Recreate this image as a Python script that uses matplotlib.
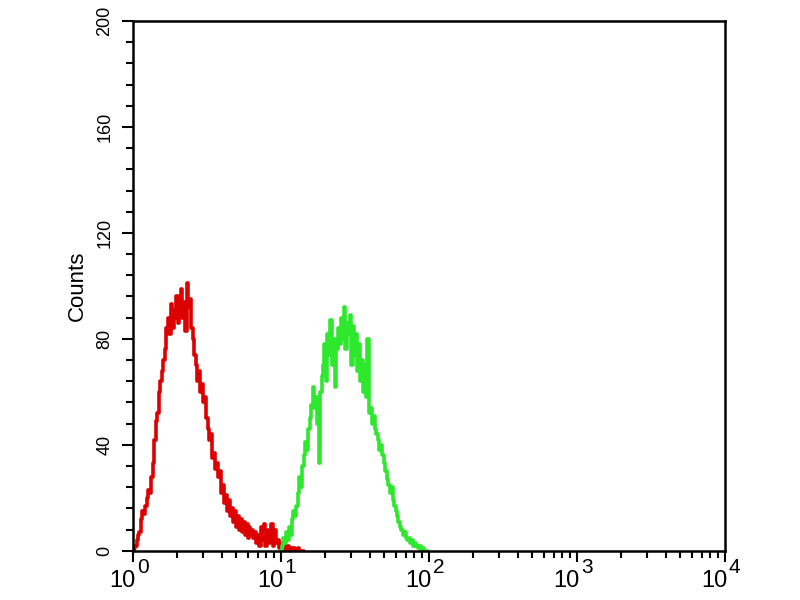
import numpy as np
import matplotlib
matplotlib.use("Agg")
import matplotlib.pyplot as plt
import matplotlib.transforms as mtransforms
from matplotlib.ticker import MultipleLocator, LogLocator, NullFormatter

plt.rcParams['font.family'] = ['Liberation Sans', 'DejaVu Sans']

# --- Dados ---
# canais em escala log10, passo 0.01
red_start, green_start = 0.00, 1.00
red_counts = [
    0, 1, 2, 4, 6, 7, 12, 15, 14, 17,
    20, 23, 22, 28, 33, 42, 49, 52, 60, 64,
    68, 72, 76, 84, 88, 82, 93, 84, 91, 88,
    96, 86, 90, 99, 88, 94, 83, 101, 92, 95,
    84, 80, 74, 70, 64, 68, 60, 63, 56, 58,
    50, 46, 42, 44, 35, 37, 31, 33, 28, 30,
    22, 25, 18, 21, 15, 19, 13, 16, 11, 15,
    9, 13, 8, 12, 7, 11, 6, 10, 5, 9,
    6, 8, 5, 7, 3, 6, 2, 9, 4, 10,
    2, 8, 3, 6, 10, 2, 8, 3, 4, 1,
    3, 1, 2, 0, 1, 2, 0, 1, 0, 1,
    0, 0, 1, 0, 0, 0,
]
green_counts = [
    0, 2, 5, 3, 7, 4, 9, 6, 12, 15,
    13, 17, 22, 28, 24, 32, 36, 41, 38, 46,
    50, 55, 62, 54, 58, 48, 33, 60, 66, 70,
    78, 64, 82, 74, 87, 70, 80, 62, 76, 84,
    78, 88, 80, 92, 76, 86, 82, 89, 70, 85,
    74, 82, 68, 78, 64, 72, 60, 70, 58, 80,
    52, 54, 48, 51, 46, 44, 42, 38, 40, 36,
    33, 30, 27, 25, 22, 24, 19, 17, 15, 13,
    11, 9, 8, 6, 7, 5, 4, 5, 3, 4,
    2, 3, 2, 1, 2, 0, 1, 0, 0, 0,
]
xtick_vals = [1, 10, 100, 1000, 10000]
xtick_exps = ['0', '1', '2', '3', '4']
ytick_vals = [0, 40, 80, 120, 160, 200]

red_x = 10 ** (red_start + 0.01 * np.arange(len(red_counts)))
green_x = 10 ** (green_start + 0.01 * np.arange(len(green_counts)))

# --- Plot ---
fig = plt.figure(figsize=(8, 6), dpi=100)
ax = fig.add_axes([0.166, 0.082, 0.74, 0.883])

ax.plot(red_x, red_counts, color='#dd0000', lw=2.6, drawstyle='steps-mid')
ax.plot(green_x, green_counts, color='#2ee82e', lw=2.6, drawstyle='steps-mid')

ax.set_xscale('log')
ax.set_xlim(1, 10000)
ax.set_ylim(0, 200)

ax.set_xticks(xtick_vals)
ax.set_xticklabels([])
ax.xaxis.set_minor_locator(LogLocator(base=10, subs=np.arange(2, 10)))
ax.xaxis.set_minor_formatter(NullFormatter())

# rótulos 10^n com expoente grande
for v, e in zip(xtick_vals, xtick_exps):
    ax.annotate('10', xy=(v, 0), xycoords=('data', 'axes fraction'),
                xytext=(3, -19), textcoords='offset pixels',
                ha='right', va='top', fontsize=17, annotation_clip=False)
    ax.annotate(e, xy=(v, 0), xycoords=('data', 'axes fraction'),
                xytext=(4, -7), textcoords='offset pixels',
                ha='left', va='top', fontsize=15, annotation_clip=False)

ax.set_yticks(ytick_vals)
ax.set_yticklabels([str(v) for v in ytick_vals], fontsize=13, rotation=90, va='center')
ax.yaxis.set_minor_locator(MultipleLocator(8))
# rótulos do eixo y levemente acima do tick, como no original
shift = mtransforms.ScaledTranslation(0, 4 / 72, fig.dpi_scale_trans)
for lab in ax.get_yticklabels():
    lab.set_transform(lab.get_transform() + shift)

ax.tick_params(which='major', direction='out', length=8, width=1.5, colors='black')
ax.tick_params(which='minor', direction='out', length=5, width=1.5)
ax.tick_params(axis='y', which='major', pad=6)

for s in ax.spines.values():
    s.set_linewidth(1.8)

ax.set_ylabel('Counts', fontsize=16, labelpad=6)

plt.savefig('out.png', dpi=100)
plt.close()
